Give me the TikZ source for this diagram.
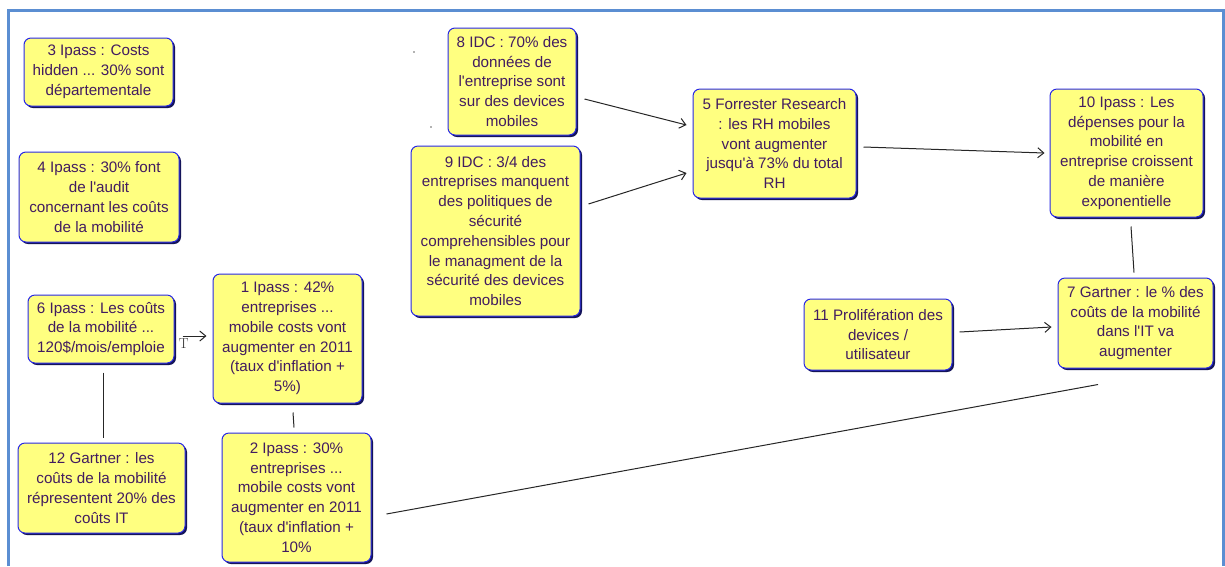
\documentclass[tikz,border=0pt]{standalone}
\usepackage{fontspec}
\setmainfont{Liberation Sans}[Ligatures=TeXOff]
\newfontfamily\serifT{Latin Modern Roman}
\usetikzlibrary{calc,arrows.meta,shadows}
\definecolor{boxfill}{RGB}{255,255,128}
\definecolor{boxline}{RGB}{40,40,230}
\definecolor{boxtext}{RGB}{66,28,96}
\definecolor{frameblue}{RGB}{91,142,210}
\definecolor{shadowc}{RGB}{20,20,90}
\begin{document}
\begin{tikzpicture}[x=1pt,y=-1pt,
  box/.style={draw=boxline, line width=1pt, fill=boxfill, rounded corners=7pt,
    align=center, text=boxtext, font=\fontsize{15.2}{19.8}\selectfont, inner sep=0pt,
    drop shadow={shadow xshift=2pt,shadow yshift=-2pt,fill=shadowc,opacity=1}},
  link/.style={draw=black!85, line width=1pt},
  arr/.style={link, -{Straight Barb[length=6pt,width=10pt]}}]
\useasboundingbox (0,0) rectangle (1225,566);
\fill[white] (0,0) rectangle (1225,566);
\draw[frameblue, line width=3pt] (8,566) -- (8,10) -- (1223,10) -- (1223,566);

\node[box, minimum width=149pt, minimum height=68pt] (n3) at (98.5,72)
  {3 Ipass : Costs\\hidden ... 30\% sont\\départementale};
\node[box, minimum width=160pt, minimum height=90pt] (n4) at (99,197)
  {4 Ipass : 30\% font\\de l'audit\\concernant les coûts\\de la mobilité};
\node[box, minimum width=146pt, minimum height=68pt] (n6) at (101,329)
  {6 Ipass : Les coûts\\de la mobilité ...\\120\$/mois/emploie};
\node[box, minimum width=149pt, minimum height=129pt] (n1) at (287.5,338.5)
  {1 Ipass : 42\%\\entreprises ...\\mobile costs vont\\augmenter en 2011\\(taux d'inflation +\\5\%)};
\node[box, minimum width=167pt, minimum height=90pt] (n12) at (101.5,488)
  {12 Gartner : les\\coûts de la mobilité\\répresentent 20\% des\\coûts IT};
\node[box, minimum width=149pt, minimum height=129pt] (n2) at (296.5,497.5)
  {2 Ipass : 30\%\\entreprises ...\\mobile costs vont\\augmenter en 2011\\(taux d'inflation +\\10\%};
\node[box, minimum width=128pt, minimum height=107pt] (n8) at (512,81.5)
  {8 IDC : 70\% des\\données de\\l'entreprise sont\\sur des devices\\mobiles};
\node[box, minimum width=169pt, minimum height=170pt] (n9) at (495.5,231)
  {9 IDC : 3/4 des\\entreprises manquent\\des politiques de\\sécurité\\comprehensibles pour\\le managment de la\\sécurité des devices\\mobiles};
\node[box, minimum width=163pt, minimum height=109pt] (n5) at (774.5,143.5)
  {5 Forrester Research\\: les RH mobiles\\vont augmenter\\jusqu'à 73\% du total\\RH};
\node[box, minimum width=153pt, minimum height=128pt] (n10) at (1126.5,153)
  {10 Ipass : Les\\dépenses pour la\\mobilité en\\entreprise croissent\\de manière\\exponentielle};
\node[box, minimum width=155pt, minimum height=90pt] (n7) at (1135.5,323)
  {7 Gartner : le \% des\\coûts de la mobilité\\dans l'IT va\\augmenter};
\node[box, minimum width=148pt, minimum height=71pt] (n11) at (878,334.5)
  {11 Prolifération des\\devices /\\utilisateur};

\draw[arr] ($(n8.east)+(8,17.5)$) -- ($(n5.west)+(-6,-18.5)$);
\draw[arr] ($(n9.east)+(8,-27)$) -- ($(n5.west)+(-6,29.5)$);
\draw[arr] ($(n5.east)+(7,3.5)$) -- ($(n10.west)+(-5,0)$);
\draw[link] ($(n10.south)+(4.5,9)$) -- ($(n7.north)+(-1.5,-5)$);
\draw[arr] ($(n11.east)+(7,-2.5)$) -- ($(n7.west)+(-6,4)$);
\draw[link] ($(n2.east)+(15,16.5)$) -- ($(n7.south)+(-37.5,16)$);
\draw[arr] ($(n6.east)+(8,7)$) -- node[pos=0.05, below=-1pt, font=\serifT\fontsize{14.5}{14.5}\selectfont, text=black!80] (tlab) {T} ($(n1.west)+(-6,-2.5)$);
\draw[link] ($(n6.south)+(2,9)$) -- ($(n12.north)+(1.5,-5)$);
\draw[link] ($(n1.south)+(5.5,9)$) -- ($(n2.north)+(-2.5,-5)$);

\fill[black!60] (414,52) circle (0.8);
\fill[black!60] (431,127) circle (0.8);
\end{tikzpicture}
\end{document}
